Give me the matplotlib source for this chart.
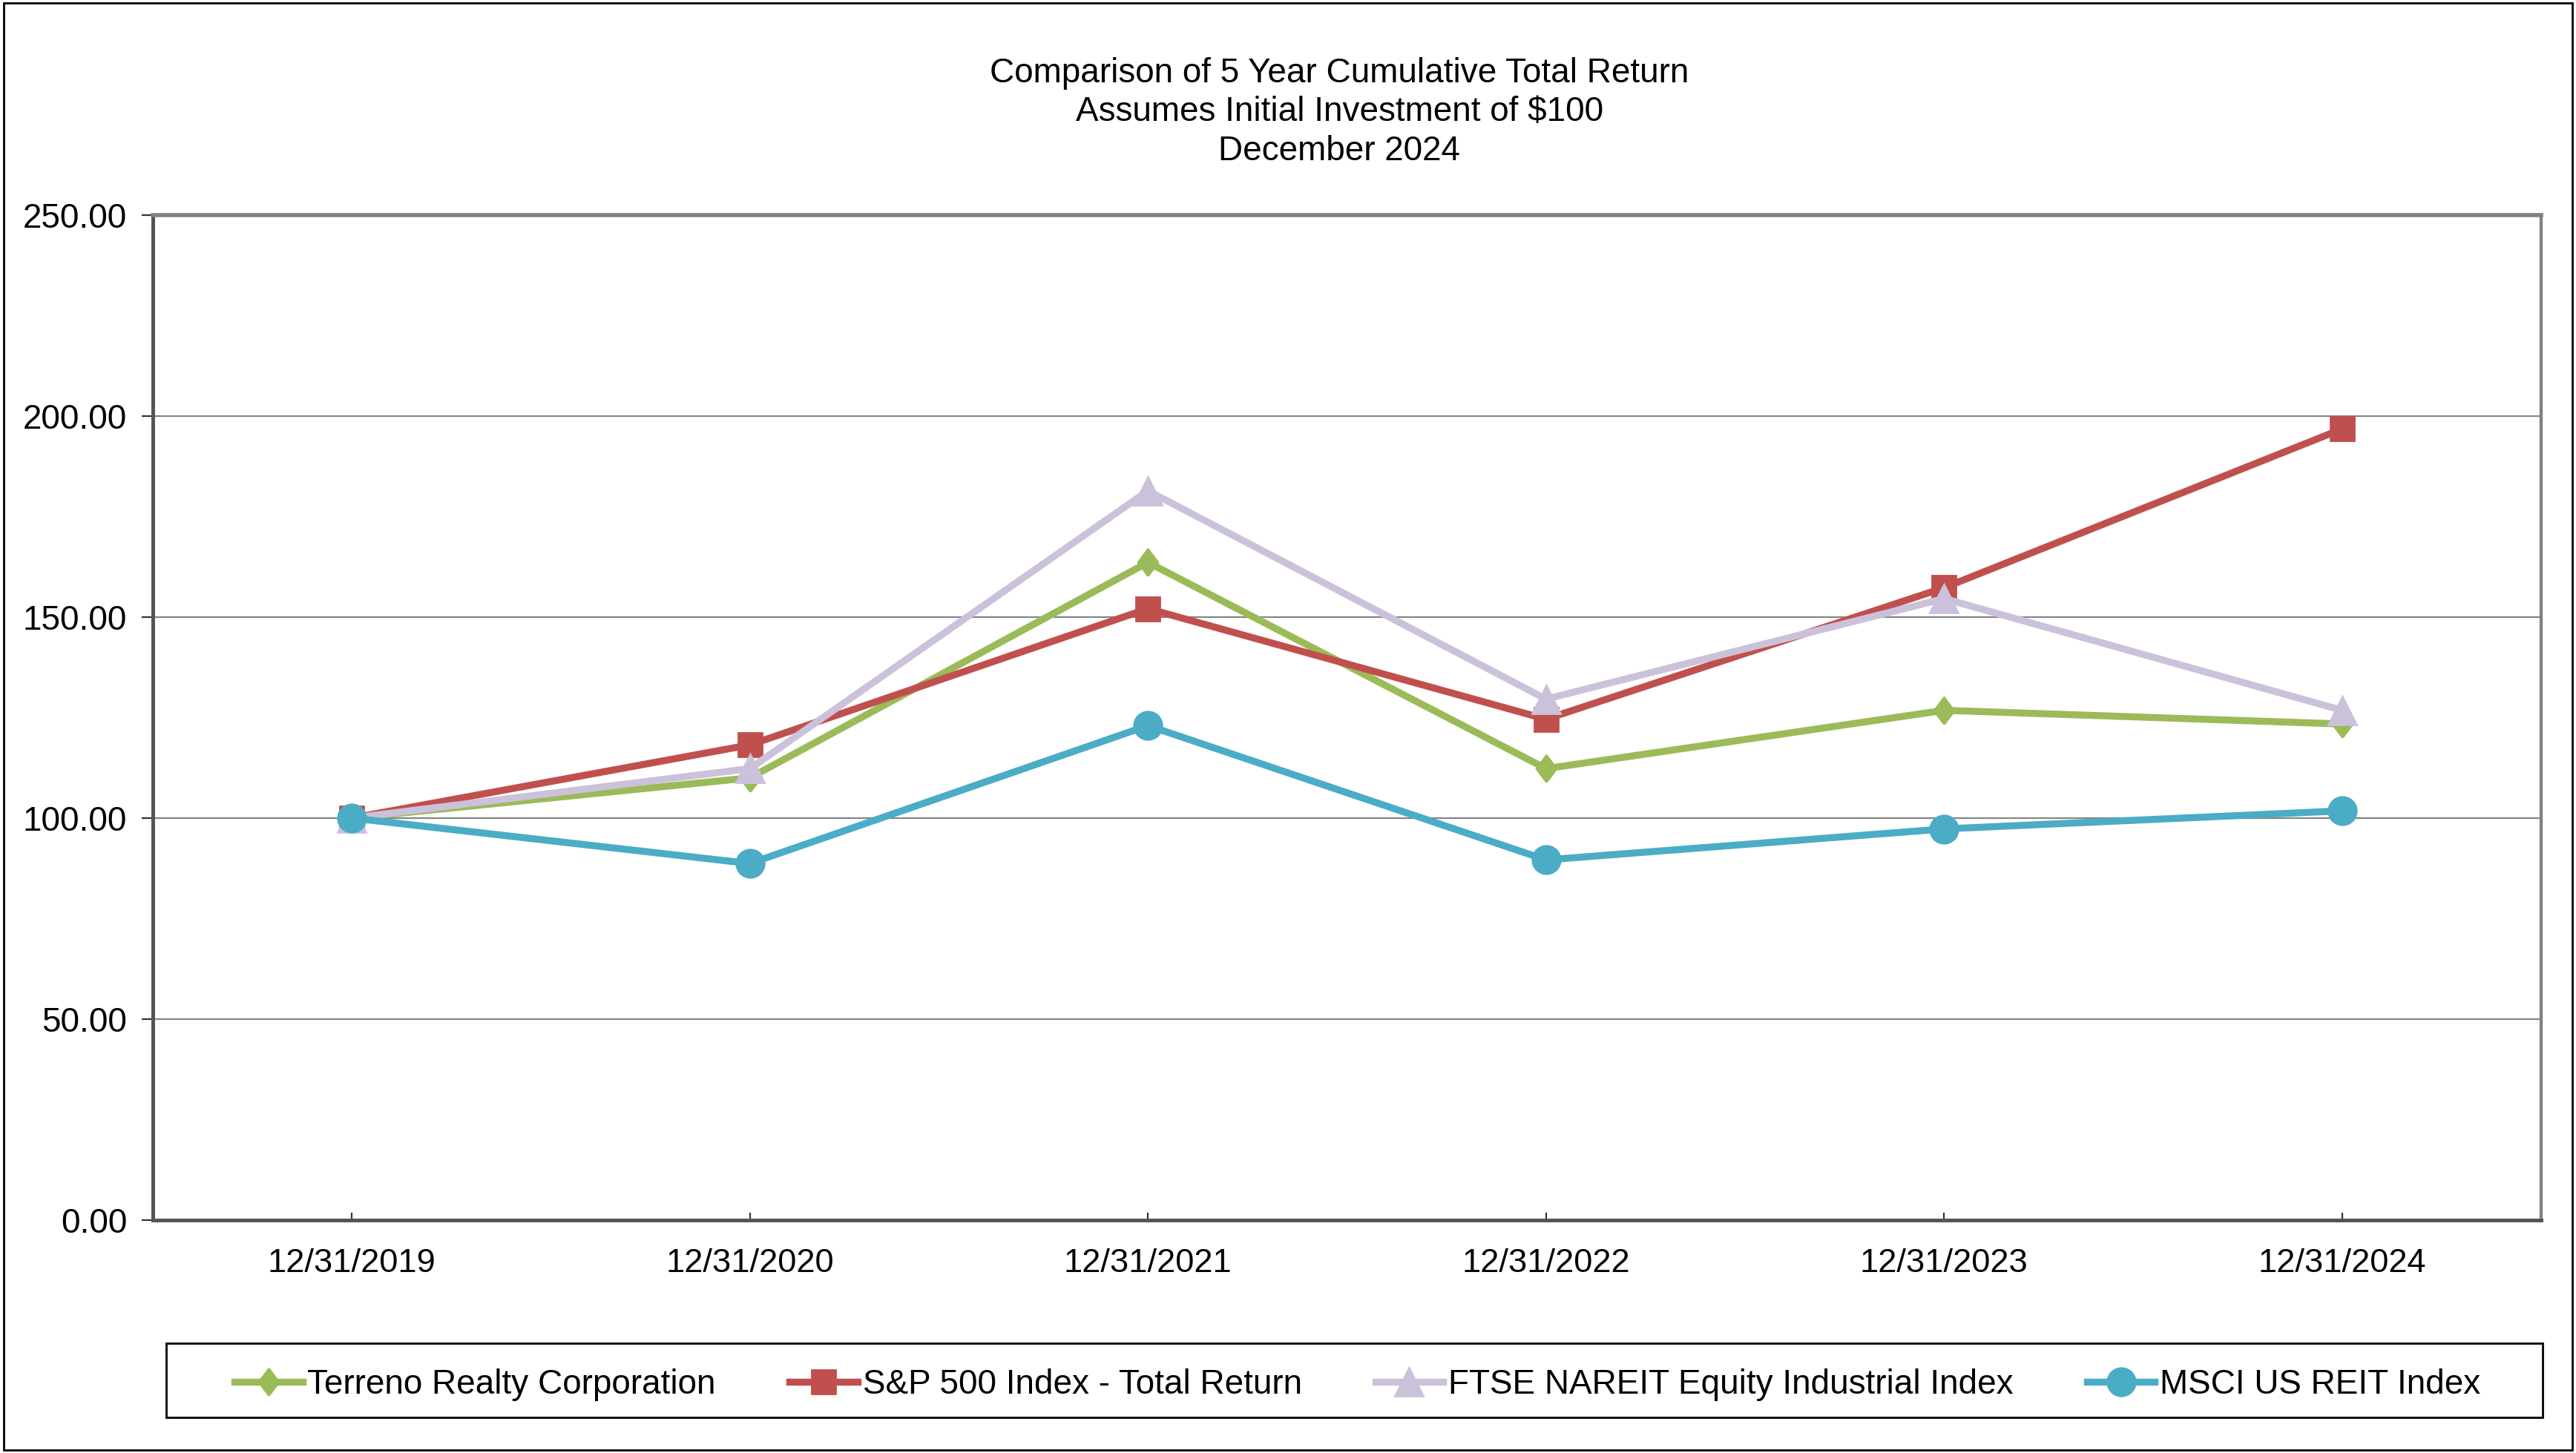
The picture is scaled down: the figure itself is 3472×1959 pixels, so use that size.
import matplotlib
matplotlib.use('Agg')
from matplotlib import pyplot as plt
from matplotlib.patches import Rectangle

plt.rcParams['font.family'] = ['Liberation Sans', 'DejaVu Sans']

years = ['12/31/2019', '12/31/2020', '12/31/2021', '12/31/2022', '12/31/2023', '12/31/2024']
terreno = [100.00, 110.0, 163.6, 112.3, 126.8, 123.4]
sp500 = [100.00, 118.2, 152.1, 124.6, 157.3, 196.8]
ftse = [100.00, 112.3, 181.4, 129.6, 154.6, 126.8]
msci = [100.00, 88.7, 123.0, 89.6, 97.3, 101.8]

series_names = ['Terreno Realty Corporation', 'S&P 500 Index - Total Return',
                'FTSE NAREIT Equity Industrial Index', 'MSCI US REIT Index']
colors = ['#9BBB59', '#C0504D', '#CCC1DA', '#4BACC6']
# diamond a bit taller than wide, like the original
diamond = [(0, -1), (0.75, 0), (0, 1), (-0.75, 0), (0, -1)]
markers = [diamond, 's', '^', 'o']
msizes = [13, 11.5, 14, 13.5]
y_ticks = [0, 50, 100, 150, 200, 250]

fig = plt.figure(figsize=(17.36, 9.795), dpi=200)
ax = fig.add_axes([0.0593, 0.1603, 0.9272, 0.6917])

x = list(range(len(years)))
for vals, name, c, m, ms in zip([terreno, sp500, ftse, msci], series_names, colors, markers, msizes):
    ax.plot(x, vals, color=c, lw=3.4, marker=m, markersize=ms,
            markeredgecolor=c, label=name, clip_on=False)

ax.set_xlim(-0.5, len(years) - 0.5)
ax.set_ylim(0, 250)
ax.set_yticks(y_ticks)
ax.set_yticklabels(['%.2f' % v for v in y_ticks], fontsize=16.5)
ax.set_xticks(x)
ax.set_xticklabels(years, fontsize=16.3)
ax.tick_params(axis='x', direction='in', length=3.6, width=0.8, pad=13.8, color='#333333')
ax.tick_params(axis='y', direction='out', length=5.5, width=0.8, pad=7, color='#333333')

ax.grid(axis='y', color='#868686', lw=0.8)
ax.set_axisbelow(True)
ax.spines['top'].set_color('#808080')
ax.spines['top'].set_linewidth(2)
ax.spines['right'].set_color('#808080')
ax.spines['right'].set_linewidth(1.5)
ax.spines['left'].set_color('#555555')
ax.spines['left'].set_linewidth(1.8)
ax.spines['bottom'].set_color('#555555')
ax.spines['bottom'].set_linewidth(1.8)

fig.text(0.52, 0.9228, 'Comparison of 5 Year Cumulative Total Return\n'
         'Assumes Initial Investment of $100\nDecember 2024',
         ha='center', va='center', fontsize=16.5, linespacing=1.25)

# legend frame drawn separately, entries spread over the inner area
fig.patches.append(Rectangle((0.0645, 0.0245), 0.9226, 0.051, transform=fig.transFigure,
                             fill=False, edgecolor='black', lw=1.0))
leg = fig.legend(loc='center', ncol=4, mode='expand',
                 bbox_to_anchor=(0.091, 0.0215, 0.872, 0.051),
                 fontsize=16.5, frameon=False,
                 handlelength=2.0, borderaxespad=0, borderpad=0, handletextpad=0.15)

fig.patches.append(Rectangle((0.0015, 0.002), 0.997, 0.996, transform=fig.transFigure,
                             fill=False, edgecolor='black', lw=1.0))

fig.savefig('out.png', dpi=200)
